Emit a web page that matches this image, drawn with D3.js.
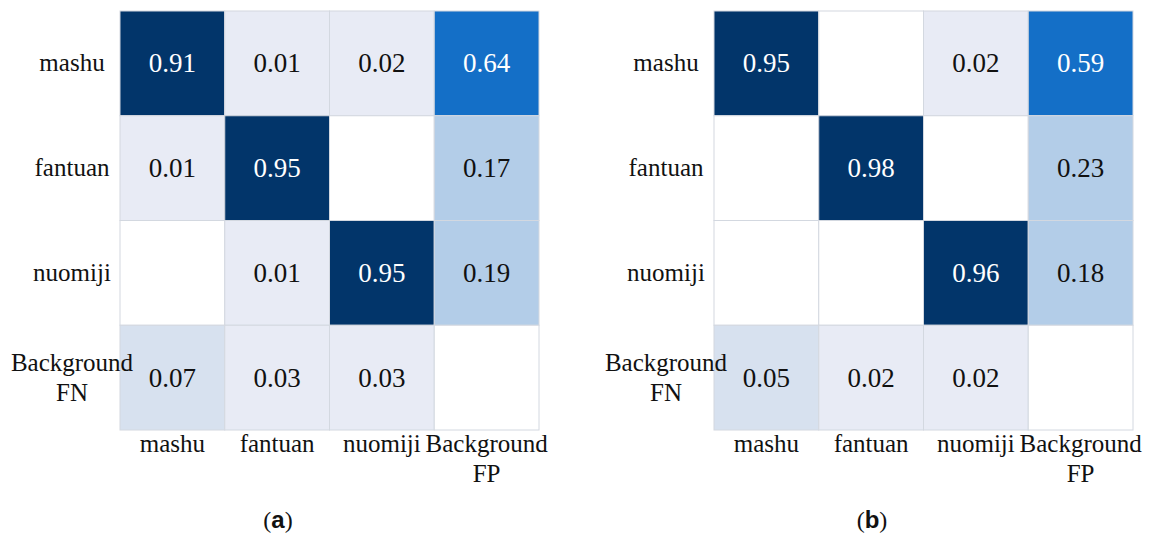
<!DOCTYPE html>
<html>
<head>
<meta charset="utf-8">
<script src="https://cdn.jsdelivr.net/npm/d3@7"></script>
<style>
  html, body { margin: 0; padding: 0; background: #fff; }
  svg { display: block; }
</style>
</head>
<body>
<svg id="chart" width="1150" height="536"></svg>
<script>
// Confusion-matrix categories
const rowLabels = [["mashu"], ["fantuan"], ["nuomiji"], ["Background", "FN"]];
const colLabels = [["mashu"], ["fantuan"], ["nuomiji"], ["Background", "FP"]];

// Normalised values, one row per true class (0 = empty cell)
const valuesA = [
  [0.91, 0.01, 0.02, 0.64],
  [0.01, 0.95, 0.00, 0.17],
  [0.00, 0.01, 0.95, 0.19],
  [0.07, 0.03, 0.03, 0.00]
];
const valuesB = [
  [0.95, 0.00, 0.02, 0.59],
  [0.00, 0.98, 0.00, 0.23],
  [0.00, 0.00, 0.96, 0.18],
  [0.05, 0.02, 0.02, 0.00]
];
const panelTags = ["a", "b"];

const serif = "'Liberation Serif', 'Times New Roman', Times, 'DejaVu Serif', serif";

const svg = d3.select("#chart")
  .attr("font-family", serif)
  .style("font-family", serif);

const color = d3.scaleThreshold()
  .domain([0.005, 0.04, 0.1, 0.4, 0.8])
  .range(["#ffffff", "#e8ebf5", "#d7e1ef", "#b3cde8", "#146fc7", "#02356a"]);

const panels = [
  { values: valuesA, tag: panelTags[0], left: 120, captionX: 278 },
  { values: valuesB, tag: panelTags[1], left: 714, captionX: 872 }
];

const gridTop = 11, gridSize = 419;
const idx = d3.range(4);

panels.forEach(p => {
  const x = d3.scaleBand().domain(idx).range([p.left, p.left + gridSize]);
  const y = d3.scaleBand().domain(idx).range([gridTop, gridTop + gridSize]);
  const g = svg.append("g");

  const cells = [];
  p.values.forEach((row, r) => row.forEach((v, c) => cells.push({ r, c, v })));

  g.selectAll("rect.cell").data(cells).join("rect")
    .attr("class", "cell")
    .attr("x", d => x(d.c))
    .attr("y", d => y(d.r))
    .attr("width", x.bandwidth())
    .attr("height", y.bandwidth())
    .attr("fill", d => color(d.v))
    .attr("stroke", "#d3d8e0")
    .attr("stroke-width", 1);

  g.selectAll("text.val").data(cells.filter(d => d.v > 0)).join("text")
    .attr("class", "val")
    .attr("x", d => x(d.c) + x.bandwidth() / 2)
    .attr("y", d => y(d.r) + y.bandwidth() / 2 + 9)
    .attr("text-anchor", "middle")
    .attr("font-family", serif)
    .attr("font-size", 27)
    .attr("fill", d => d.v >= 0.4 ? "#ffffff" : "#111")
    .text(d => d3.format(".2f")(d.v));

  // row labels (true class)
  const rl = g.selectAll("text.row").data(rowLabels).join("text")
    .attr("class", "row")
    .attr("text-anchor", "middle")
    .attr("font-family", serif)
    .attr("font-size", 25)
    .attr("fill", "#111")
    .attr("x", p.left - 48)
    .attr("y", (d, i) => y(i) + y.bandwidth() / 2 + 8 - (d.length - 1) * 15);
  rl.selectAll("tspan").data(d => d).join("tspan")
    .attr("x", p.left - 48)
    .attr("dy", (d, i) => i === 0 ? 0 : 30)
    .text(d => d);

  // column labels (predicted class)
  const cl = g.selectAll("text.col").data(colLabels).join("text")
    .attr("class", "col")
    .attr("text-anchor", "middle")
    .attr("font-family", serif)
    .attr("font-size", 25)
    .attr("fill", "#111")
    .attr("x", (d, i) => x(i) + x.bandwidth() / 2)
    .attr("y", gridTop + gridSize + 22);
  cl.selectAll("tspan").data((d, i) => d.map(s => ({ s, i }))).join("tspan")
    .attr("x", d => x(d.i) + x.bandwidth() / 2)
    .attr("dy", (d, k) => k === 0 ? 0 : 30)
    .text(d => d.s);

  // panel caption
  const cap = svg.append("text")
    .attr("x", p.captionX)
    .attr("y", 528)
    .attr("text-anchor", "middle")
    .attr("font-family", serif)
    .attr("font-size", 24)
    .attr("fill", "#111");
  cap.append("tspan").text("(");
  cap.append("tspan").attr("font-weight", "bold")
    .attr("font-family", "'Liberation Sans', Arial, sans-serif").text(p.tag);
  cap.append("tspan").text(")");
});
</script>
</body>
</html>
